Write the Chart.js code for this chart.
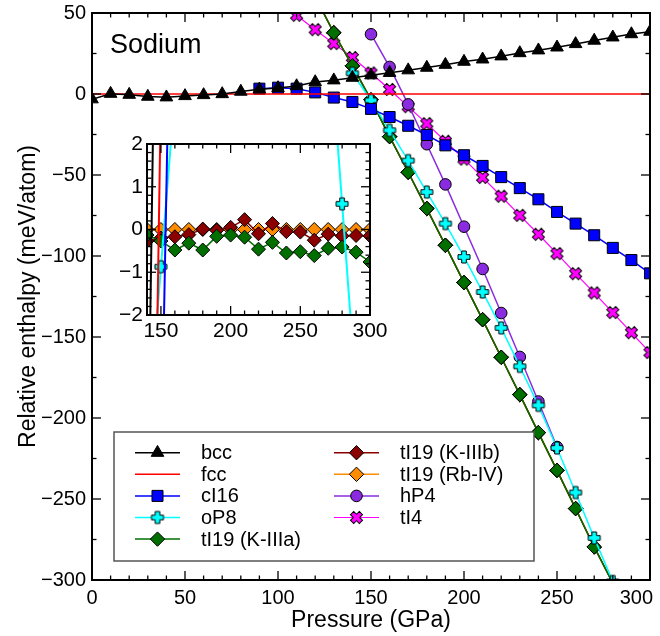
<!DOCTYPE html>
<html>
<head>
<meta charset="utf-8">
<title>Sodium – relative enthalpy</title>
<script src="https://cdn.jsdelivr.net/npm/chart.js@4.4.1/dist/chart.umd.min.js"></script>
<style>
  html, body { margin: 0; padding: 0; background: #fff; }
  #wrap { position: relative; width: 660px; height: 636px; }
  #main { position: absolute; left: 0; top: 0; width: 660px; height: 636px; }
  #inset { position: absolute; left: 96px; top: 124px; width: 300px; height: 230px; }
</style>
</head>
<body>
<div id="wrap">
  <canvas id="main" width="660" height="636"></canvas>
  <canvas id="inset" width="300" height="230"></canvas>
</div>
<script>
const FONT = '"Liberation Sans", Arial, Helvetica, sans-serif';

// pressure grid (GPa)
const pressure = [0, 10, 20, 30, 40, 50, 60, 70, 80, 90, 100, 110, 120, 130, 140, 150,
                  160, 170, 180, 190, 200, 210, 220, 230, 240, 250, 260, 270, 280, 290, 300];

// main panel: enthalpy relative to fcc (meV/atom)
const bccH = [-3.2, 0.2, -0.4, -1.6, -2.0, -1.2, -0.6, 0.0, 1.5, 2.9, 3.7, 4.9, 7.4, 8.5, 10.1, 11.6,
              13.1, 14.7, 16.3, 18.1, 20.0, 21.4, 23.3, 25.3, 27.0, 28.8, 30.9, 33.0, 35.0, 37.0, 38.5];
const fccP = [0, 300];
const fccH = [0, 0];
const cI16P = pressure.slice(9);        // 90 .. 300
const cI16H = [3.3, 3.9, 3.3, 1.0, -2.2, -4.9, -9.2, -14.2, -19.6, -25.3, -31.7, -37.8, -44.4,
               -51.3, -58.1, -65.0, -72.8, -80.0, -87.2, -95.0, -102.5, -110.7];
const oP8P = pressure.slice(14, 29);    // 140 .. 280
const oP8H = [12.8, -3.9, -22.4, -41.1, -60.5, -80.0, -100.6, -122.2, -144.4, -168.1, -192.2,
              -218.5, -246.0, -274.0, -300.9];
const tI19P = pressure.slice(12, 29);   // 120 .. 280
const tI19H = [60.0, 37.8, 17.4, -3.6, -26.3, -48.3, -70.7, -93.4, -116.4, -139.3, -162.5,
               -185.6, -209.0, -232.3, -255.9, -279.6, -301.9];
const hP4P = pressure.slice(15, 26);    // 150 .. 250
const hP4H = [36.9, 16.7, -6.4, -31.0, -55.8, -81.9, -108.0, -135.2, -162.3, -189.8, -217.9];
const tI4P = pressure.slice(11);        // 110 .. 300
const tI4H = [48.6, 39.7, 31.1, 22.5, 13.0, 2.8, -7.8, -18.3, -29.2, -40.2, -51.5, -63.1, -74.9,
              -86.6, -98.5, -110.9, -122.8, -134.9, -147.3, -159.6];

// inset: enthalpy relative to tI19 (Rb-IV), 140 .. 300 GPa
const insetP = pressure.slice(14);
const kIIIaRel = [-0.13, -0.27, -0.48, -0.32, -0.48, -0.16, -0.13, -0.18, -0.46, -0.30, -0.55,
                  -0.52, -0.61, -0.44, -0.41, -0.53, -0.76];
const kIIIbRel = [-0.27, -0.20, -0.17, -0.12, 0.01, -0.02, 0.05, 0.23, -0.10, 0.14, -0.05,
                  -0.06, -0.25, -0.11, -0.15, -0.14, -0.15];
const rbIVRel = [0, 0, 0, 0, 0, 0, 0, 0, 0, 0, 0, 0, 0, 0, 0, 0, 0];
const bccRelP = [140, 150], bccRel = [-7.3, 14.9];
const fccRelP = [140, 150, 160], fccRel = [-17.6, 3.2, 25.6];
const cI16RelP = [150, 160], cI16Rel = [-5.8, 11.4];
const oP8RelP = [140, 150, 160, 270, 280, 290], oP8Rel = [-5.0, -0.87, 3.2, 5.0, 0.6, -3.8];

const pts = (xs, ys) => xs.map((x, i) => ({ x: x, y: ys[i] }));

// filled plus / cross symbols with a black outline
function plusSymbol(fill, size, arm, angle) {
  const c = document.createElement('canvas');
  c.width = c.height = Math.ceil(size + 6);
  const g = c.getContext('2d');
  const h = size / 2, a = arm / 2;
  g.translate(c.width / 2, c.height / 2);
  g.rotate(angle);
  g.beginPath();
  g.moveTo(-a, -h); g.lineTo(a, -h); g.lineTo(a, -a); g.lineTo(h, -a); g.lineTo(h, a);
  g.lineTo(a, a); g.lineTo(a, h); g.lineTo(-a, h); g.lineTo(-a, a); g.lineTo(-h, a);
  g.lineTo(-h, -a); g.lineTo(-a, -a); g.closePath();
  g.fillStyle = fill;
  g.fill();
  g.lineWidth = 1;
  g.strokeStyle = '#000';
  g.stroke();
  return c;
}

const COLORS = {
  bcc: '#000000', fcc: '#ff0000', cI16: '#0000ff', oP8: '#00ffff',
  kIIIa: '#006f00', kIIIb: '#8b0000', rbIV: '#ff8c00', hP4: '#8a2be2', tI4: '#ff00ff'
};
const plusMark = plusSymbol(COLORS.oP8, 12, 4.6, 0);
const crossMark = plusSymbol(COLORS.tI4, 12.5, 4.6, Math.PI / 4);

function series(label, data, color, style, radius, width) {
  return {
    label: label,
    data: data,
    borderColor: color,
    backgroundColor: color,
    borderWidth: width,
    pointStyle: style,
    pointRadius: style ? radius : 0,
    pointBackgroundColor: color,
    pointBorderColor: '#000',
    pointBorderWidth: 1,
    tension: 0
  };
}

// box with inward ticks on all four sides
const frameTicks = {
  id: 'frameTicks',
  afterDatasetsDraw(chart, args, o) {
    const { ctx, chartArea: a, scales: { x, y } } = chart;
    ctx.save();
    ctx.strokeStyle = '#000';
    ctx.lineWidth = 1.3;
    const seg = (x1, y1, x2, y2) => { ctx.beginPath(); ctx.moveTo(x1, y1); ctx.lineTo(x2, y2); ctx.stroke(); };
    const nx = Math.round((x.max - x.min) / o.xMinor);
    for (let i = 0; i <= nx; i++) {
      const v = x.min + i * o.xMinor;
      const px = x.getPixelForValue(v);
      const len = Math.abs(v / o.xMajor - Math.round(v / o.xMajor)) < 1e-6 ? o.major : o.minor;
      seg(px, a.bottom, px, a.bottom - len);
      seg(px, a.top, px, a.top + len);
    }
    const ny = Math.round((y.max - y.min) / o.yMinor);
    for (let i = 0; i <= ny; i++) {
      const v = y.min + i * o.yMinor;
      const py = y.getPixelForValue(v);
      const len = Math.abs(v / o.yMajor - Math.round(v / o.yMajor)) < 1e-6 ? o.major : o.minor;
      seg(a.left, py, a.left + len, py);
      seg(a.right, py, a.right - len, py);
    }
    ctx.lineWidth = 2;
    ctx.strokeRect(a.left, a.top, a.right - a.left, a.bottom - a.top);
    ctx.restore();
  }
};

function drawMarker(ctx, ds, x, y) {
  ctx.fillStyle = ds.pointBackgroundColor;
  ctx.strokeStyle = ds.pointBorderColor;
  ctx.lineWidth = ds.pointBorderWidth;
  Chart.helpers.drawPoint(ctx, {
    pointStyle: ds.pointStyle, radius: ds.pointRadius, rotation: 0, borderWidth: ds.pointBorderWidth
  }, x, y);
}

// two-column legend box in the lower left of the main panel
const legendBox = {
  id: 'legendBox',
  afterDatasetsDraw(chart) {
    const ctx = chart.ctx;
    ctx.save();
    ctx.fillStyle = '#fff';
    ctx.fillRect(114, 432, 420, 129);
    ctx.strokeStyle = '#555';
    ctx.lineWidth = 1.5;
    ctx.strokeRect(114, 432, 420, 129);
    chart.data.datasets.forEach((ds, i) => {
      const col = i < 5 ? 0 : 1;
      const row = i < 5 ? i : i - 5;
      const lx = col ? 334 : 135;
      const ty = 452.7 + row * 21.6;
      ctx.strokeStyle = ds.borderColor;
      ctx.lineWidth = ds.borderWidth;
      ctx.beginPath(); ctx.moveTo(lx, ty); ctx.lineTo(lx + 45, ty); ctx.stroke();
      if (ds.pointRadius > 0) drawMarker(ctx, ds, lx + 22.5, ty);
      ctx.fillStyle = '#000';
      ctx.font = '20px ' + FONT;
      ctx.textBaseline = 'middle';
      ctx.textAlign = 'left';
      ctx.fillText(ds.label, lx + 66, ty + 1);
    });
    ctx.restore();
  }
};

const panelLabel = {
  id: 'panelLabel',
  afterDraw(chart) {
    const ctx = chart.ctx;
    ctx.save();
    ctx.fillStyle = '#000';
    ctx.font = '27px ' + FONT;
    ctx.textBaseline = 'alphabetic';
    ctx.fillText('Sodium', 110, 52.5);
    ctx.restore();
  }
};

// keep the last x label inside the canvas
const lastLabelInside = {
  id: 'lastLabelInside',
  beforeDraw(chart) {
    const items = chart.scales.x.getLabelItems();
    const last = items[items.length - 1];
    last.options.textAlign = 'right';
    last.options.translation[0] = chart.chartArea.right + 3;
  }
};

const minus = v => String(v).replace('-', '\u2212');

new Chart(document.getElementById('main'), {
  type: 'line',
  data: {
    datasets: [
      series('bcc', pts(pressure, bccH), COLORS.bcc, 'triangle', 7.3, 1.5),
      series('fcc', pts(fccP, fccH), COLORS.fcc, false, 0, 1.5),
      series('cI16', pts(cI16P, cI16H), COLORS.cI16, 'rect', 7.8, 1.5),
      series('oP8', pts(oP8P, oP8H), COLORS.oP8, plusMark, 6, 1.5),
      series('tI19 (K-IIIa)', pts(tI19P, tI19H), COLORS.kIIIa, 'rectRot', 7.2, 1.5),
      series('tI19 (K-IIIb)', pts(tI19P, tI19H), COLORS.kIIIb, 'rectRot', 7.2, 1.5),
      series('tI19 (Rb-IV)', pts(tI19P, tI19H), COLORS.rbIV, 'rectRot', 7.2, 1.5),
      series('hP4', pts(hP4P, hP4H), COLORS.hP4, 'circle', 5.8, 1.5),
      series('tI4', pts(tI4P, tI4H), COLORS.tI4, crossMark, 6, 1.2)
    ]
  },
  options: {
    responsive: false,
    animation: false,
    layout: { padding: { top: 13, right: 10, left: 0, bottom: 0 } },
    plugins: {
      legend: { display: false },
      tooltip: { enabled: false },
      frameTicks: { xMinor: 10, xMajor: 50, yMinor: 25, yMajor: 50, major: 9, minor: 4.5 }
    },
    scales: {
      x: {
        type: 'linear', min: 0, max: 300,
        afterFit: s => { s.height = 56; s.paddingLeft = 0; s.paddingRight = 0; },
        grid: { display: false, drawTicks: false },
        border: { display: false },
        ticks: { stepSize: 50, color: '#000', padding: 6, maxRotation: 0, font: { family: FONT, size: 20 } },
        title: { display: true, text: 'Pressure (GPa)', color: '#000', padding: { top: 0, bottom: 2 }, font: { family: FONT, size: 23 } }
      },
      y: {
        type: 'linear', min: -300, max: 50,
        afterFit: s => { s.width = 92; s.paddingTop = 0; s.paddingBottom = 0; },
        grid: { display: false, drawTicks: false },
        border: { display: false },
        ticks: { stepSize: 50, color: '#000', padding: 6, callback: minus, font: { family: FONT, size: 20 } },
        title: { display: true, text: 'Relative enthalpy (meV/atom)', color: '#000', padding: { top: 15, bottom: 0 }, font: { family: FONT, size: 23 } }
      }
    }
  },
  plugins: [frameTicks, legendBox, panelLabel, lastLabelInside]
});

const whiteArea = {
  id: 'whiteArea',
  beforeDatasetsDraw(chart) {
    const { ctx, chartArea: a } = chart;
    ctx.save();
    ctx.fillStyle = '#fff';
    ctx.fillRect(a.left, a.top, a.right - a.left, a.bottom - a.top);
    ctx.restore();
  }
};

new Chart(document.getElementById('inset'), {
  type: 'line',
  data: {
    datasets: [
      series('bcc', pts(bccRelP, bccRel), COLORS.bcc, false, 0, 2),
      series('fcc', pts(fccRelP, fccRel), COLORS.fcc, false, 0, 2),
      series('cI16', pts(cI16RelP, cI16Rel), COLORS.cI16, false, 0, 2),
      series('oP8', pts(oP8RelP, oP8Rel), COLORS.oP8, plusMark, 6, 2),
      series('tI19 (K-IIIa)', pts(insetP, kIIIaRel), COLORS.kIIIa, 'rectRot', 7, 1.5),
      series('tI19 (K-IIIb)', pts(insetP, kIIIbRel), COLORS.kIIIb, 'rectRot', 7, 1.5),
      series('tI19 (Rb-IV)', pts(insetP, rbIVRel), COLORS.rbIV, 'rectRot', 7, 1.5)
    ]
  },
  options: {
    responsive: false,
    animation: false,
    layout: { padding: { top: 20, right: 26, left: 0, bottom: 0 } },
    plugins: {
      legend: { display: false },
      tooltip: { enabled: false },
      frameTicks: { xMinor: 10, xMajor: 50, yMinor: 0.2, yMajor: 1, major: 9, minor: 4.5 }
    },
    scales: {
      x: {
        type: 'linear', min: 140, max: 300,
        afterBuildTicks: s => { s.ticks = [150, 200, 250, 300].map(v => ({ value: v })); },
        afterFit: s => { s.height = 39; s.paddingLeft = 0; s.paddingRight = 0; },
        grid: { display: false, drawTicks: false },
        border: { display: false },
        ticks: { color: '#000', padding: 4, maxRotation: 0, autoSkip: false, font: { family: FONT, size: 21 } }
      },
      y: {
        type: 'linear', min: -2, max: 2,
        afterFit: s => { s.width = 51; s.paddingTop = 0; s.paddingBottom = 0; },
        grid: { display: false, drawTicks: false },
        border: { display: false },
        ticks: { stepSize: 1, color: '#000', padding: 4, callback: minus, font: { family: FONT, size: 21 } }
      }
    }
  },
  plugins: [whiteArea, frameTicks]
});
</script>
</body>
</html>
